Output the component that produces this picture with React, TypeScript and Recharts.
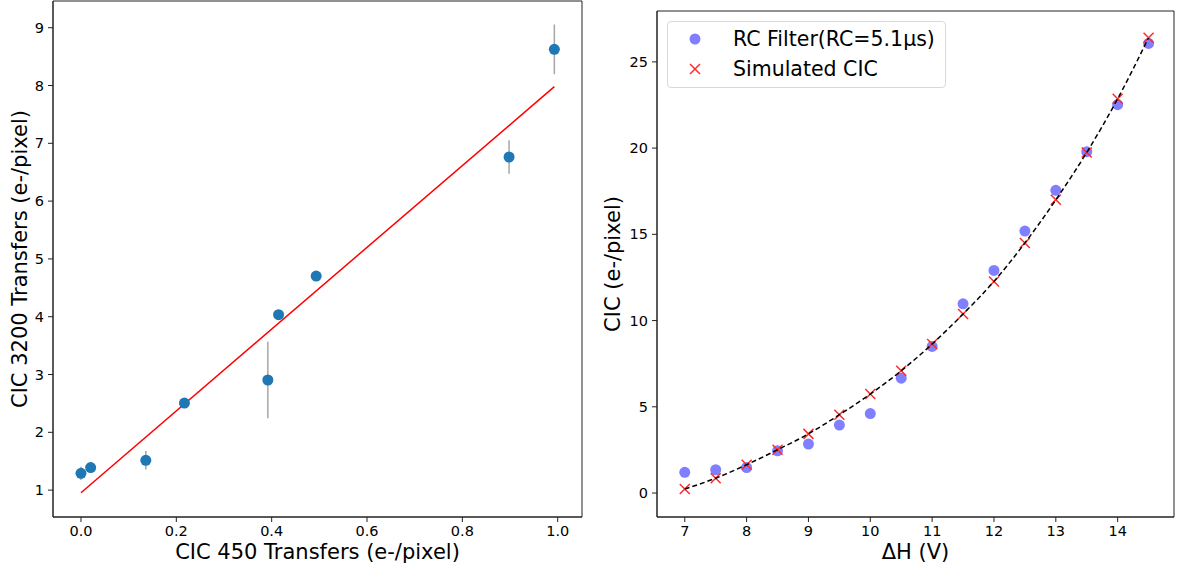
import React from "react";
import {
  ComposedChart,
  Scatter,
  XAxis,
  YAxis,
  ErrorBar,
  ReferenceArea,
} from "recharts";

// ---------- Left panel data ----------
const cic450 = [0.0, 0.0203, 0.136, 0.217, 0.392, 0.4145, 0.4934, 0.898, 0.993];
const cic3200 = [1.29, 1.39, 1.515, 2.507, 2.905, 4.035, 4.704, 6.763, 8.626];
const cic3200Err = [0.115, 0.095, 0.16, 0.04, 0.66, 0.04, 0.07, 0.29, 0.43];
const fitLineX = [0.0, 0.993];
const fitLineY = [0.955, 7.98];
const leftXTicks = [0.0, 0.2, 0.4, 0.6, 0.8, 1.0];
const leftYTicks = [1, 2, 3, 4, 5, 6, 7, 8, 9];

// ---------- Right panel data ----------
const deltaH = [7, 7.5, 8, 8.5, 9, 9.5, 10, 10.5, 11, 11.5, 12, 12.5, 13, 13.5, 14, 14.5];
const rcFilter = [1.2, 1.35, 1.48, 2.45, 2.84, 3.94, 4.61, 6.66, 8.5, 10.97, 12.91, 15.19, 17.55, 19.79, 22.52, 26.07];
const simulatedCIC = [0.23, 0.86, 1.64, 2.51, 3.43, 4.54, 5.74, 7.09, 8.64, 10.38, 12.27, 14.5, 17.0, 19.75, 22.86, 26.4];
const rightXTicks = [7, 8, 9, 10, 11, 12, 13, 14];
const rightYTicks = [0, 5, 10, 15, 20, 25];

const LEFT_X_DOMAIN: [number, number] = [-0.0587, 1.051];
const LEFT_Y_DOMAIN: [number, number] = [0.535, 9.462];
const RIGHT_X_DOMAIN: [number, number] = [6.551, 14.911];
const RIGHT_Y_DOMAIN: [number, number] = [-1.39, 27.95];

const FONT = "DejaVu Sans";
const AXIS_COLOR = "#222";
const tickStyle = { fill: "#000", fontSize: 14.5, fontFamily: FONT };

const leftPoints = cic450.map((x, i) => ({ x, y: cic3200[i], err: cic3200Err[i] }));
const leftFit = fitLineX.map((x, i) => ({ x, y: fitLineY[i] }));
const rcPoints = deltaH.map((x, i) => ({ x, y: rcFilter[i] }));
const simPoints = deltaH.map((x, i) => ({ x, y: simulatedCIC[i] }));

const xTitle = (text: string) => (props: any) => {
  const vb = props.viewBox;
  return (
    <text
      x={vb.x + vb.width / 2}
      y={vb.y + 42}
      textAnchor="middle"
      fontSize={21}
      fontFamily={FONT}
      fill="#000"
    >
      {text}
    </text>
  );
};

const yTitle = (text: string, bx: number) => (props: any) => {
  const vb = props.viewBox;
  const x = vb.x + bx;
  const y = vb.y + vb.height / 2;
  return (
    <text
      x={x}
      y={y}
      transform={`rotate(-90, ${x}, ${y})`}
      textAnchor="middle"
      fontSize={21}
      fontFamily={FONT}
      fill="#000"
    >
      {text}
    </text>
  );
};

const CrossShape = (props: any) => {
  const { cx, cy } = props;
  if (cx == null || cy == null) return <g />;
  const s = 5;
  return (
    <path
      d={`M${cx - s},${cy - s}L${cx + s},${cy + s}M${cx - s},${cy + s}L${cx + s},${cy - s}`}
      stroke="#ff2a2a"
      strokeWidth={1.5}
      fill="none"
    />
  );
};

const DotShape = (fill: string, r: number) => (props: any) => {
  const { cx, cy } = props;
  if (cx == null || cy == null) return <g />;
  return <circle cx={cx} cy={cy} r={r} fill={fill} />;
};

const EmptyShape = () => <g />;

const LegendBox = () => (
  <div
    style={{
      position: "absolute",
      left: 667,
      top: 21,
      width: 279,
      height: 67,
      boxSizing: "border-box",
      border: "1px solid #d8d8d8",
      borderRadius: 4,
      background: "rgba(255,255,255,0.85)",
      fontFamily: FONT,
      fontSize: 20.5,
      color: "#000",
    }}
  >
    <svg width={60} height={67} style={{ position: "absolute", left: -1, top: -1 }}>
      <circle cx={28} cy={18} r={5.5} fill="#7f7fff" />
      <path d="M23,43L33,53M23,53L33,43" stroke="#ff2a2a" strokeWidth={1.5} />
    </svg>
    <div style={{ position: "absolute", left: 65, top: 3, lineHeight: "28px", whiteSpace: "nowrap" }}>
      RC Filter(RC=5.1μs)
    </div>
    <div style={{ position: "absolute", left: 65, top: 33, lineHeight: "28px", whiteSpace: "nowrap" }}>
      Simulated CIC
    </div>
  </div>
);

export default function App() {
  return (
    <div
      style={{
        position: "absolute",
        left: 0,
        top: 0,
        width: 1177,
        height: 568,
        background: "#fff",
        fontFamily: FONT,
      }}
    >
      {/* Left panel */}
      <div style={{ position: "absolute", left: 0, top: 0 }}>
        <ComposedChart width={600} height={568} margin={{ top: 1, right: 18, bottom: 0, left: 0 }}>
          <XAxis
            type="number"
            dataKey="x"
            domain={LEFT_X_DOMAIN}
            ticks={leftXTicks}
            tickFormatter={(v: number) => v.toFixed(1)}
            height={51}
            tick={tickStyle}
            tickSize={5}
            tickMargin={4}
            stroke={AXIS_COLOR}
            allowDataOverflow
            label={{ content: xTitle("CIC 450 Transfers (e-/pixel)") }}
          />
          <YAxis
            type="number"
            dataKey="y"
            domain={LEFT_Y_DOMAIN}
            ticks={leftYTicks}
            width={53}
            tick={tickStyle}
            tickSize={5}
            tickMargin={4}
            stroke={AXIS_COLOR}
            allowDataOverflow
            label={{ content: yTitle("CIC 3200 Transfers (e-/pixel)", 27) }}
          />
          <ReferenceArea
            x1={LEFT_X_DOMAIN[0]}
            x2={LEFT_X_DOMAIN[1]}
            y1={LEFT_Y_DOMAIN[0]}
            y2={LEFT_Y_DOMAIN[1]}
            fill="none"
            fillOpacity={0}
            stroke={AXIS_COLOR}
            strokeWidth={1}
            ifOverflow="visible"
          />
          <Scatter
            data={leftFit}
            line={{ stroke: "#ff0000", strokeWidth: 1.5 }}
            shape={EmptyShape}
            isAnimationActive={false}
            legendType="none"
          />
          <Scatter data={leftPoints} shape={DotShape("#1f77b4", 5.5)} isAnimationActive={false}>
            <ErrorBar dataKey="err" direction="y" width={0} stroke="#a6a6a6" strokeWidth={1.5} isAnimationActive={false} />
          </Scatter>
        </ComposedChart>
      </div>

      {/* Right panel */}
      <div style={{ position: "absolute", left: 600, top: 0 }}>
        <ComposedChart width={577} height={568} margin={{ top: 11, right: 3, bottom: 0, left: 0 }}>
          <XAxis
            type="number"
            dataKey="x"
            domain={RIGHT_X_DOMAIN}
            ticks={rightXTicks}
            height={51}
            tick={tickStyle}
            tickSize={5}
            tickMargin={4}
            stroke={AXIS_COLOR}
            allowDataOverflow
            label={{ content: xTitle("ΔH (V)") }}
          />
          <YAxis
            type="number"
            dataKey="y"
            domain={RIGHT_Y_DOMAIN}
            ticks={rightYTicks}
            width={57}
            tick={tickStyle}
            tickSize={5}
            tickMargin={4}
            stroke={AXIS_COLOR}
            allowDataOverflow
            label={{ content: yTitle("CIC (e-/pixel)", 20) }}
          />
          <ReferenceArea
            x1={RIGHT_X_DOMAIN[0]}
            x2={RIGHT_X_DOMAIN[1]}
            y1={RIGHT_Y_DOMAIN[0]}
            y2={RIGHT_Y_DOMAIN[1]}
            fill="none"
            fillOpacity={0}
            stroke={AXIS_COLOR}
            strokeWidth={1}
            ifOverflow="visible"
          />
          <Scatter
            name="RC Filter(RC=5.1μs)"
            data={rcPoints}
            shape={DotShape("#7f7fff", 5.5)}
            isAnimationActive={false}
          />
          <Scatter
            name="Simulated CIC"
            data={simPoints}
            shape={CrossShape}
            isAnimationActive={false}
          />
          <Scatter
            data={simPoints}
            line={{ stroke: "#000", strokeWidth: 1.5, strokeDasharray: "5 3" }}
            lineJointType="monotoneX"
            shape={EmptyShape}
            isAnimationActive={false}
            legendType="none"
          />
        </ComposedChart>
      </div>
      <LegendBox />
    </div>
  );
}
